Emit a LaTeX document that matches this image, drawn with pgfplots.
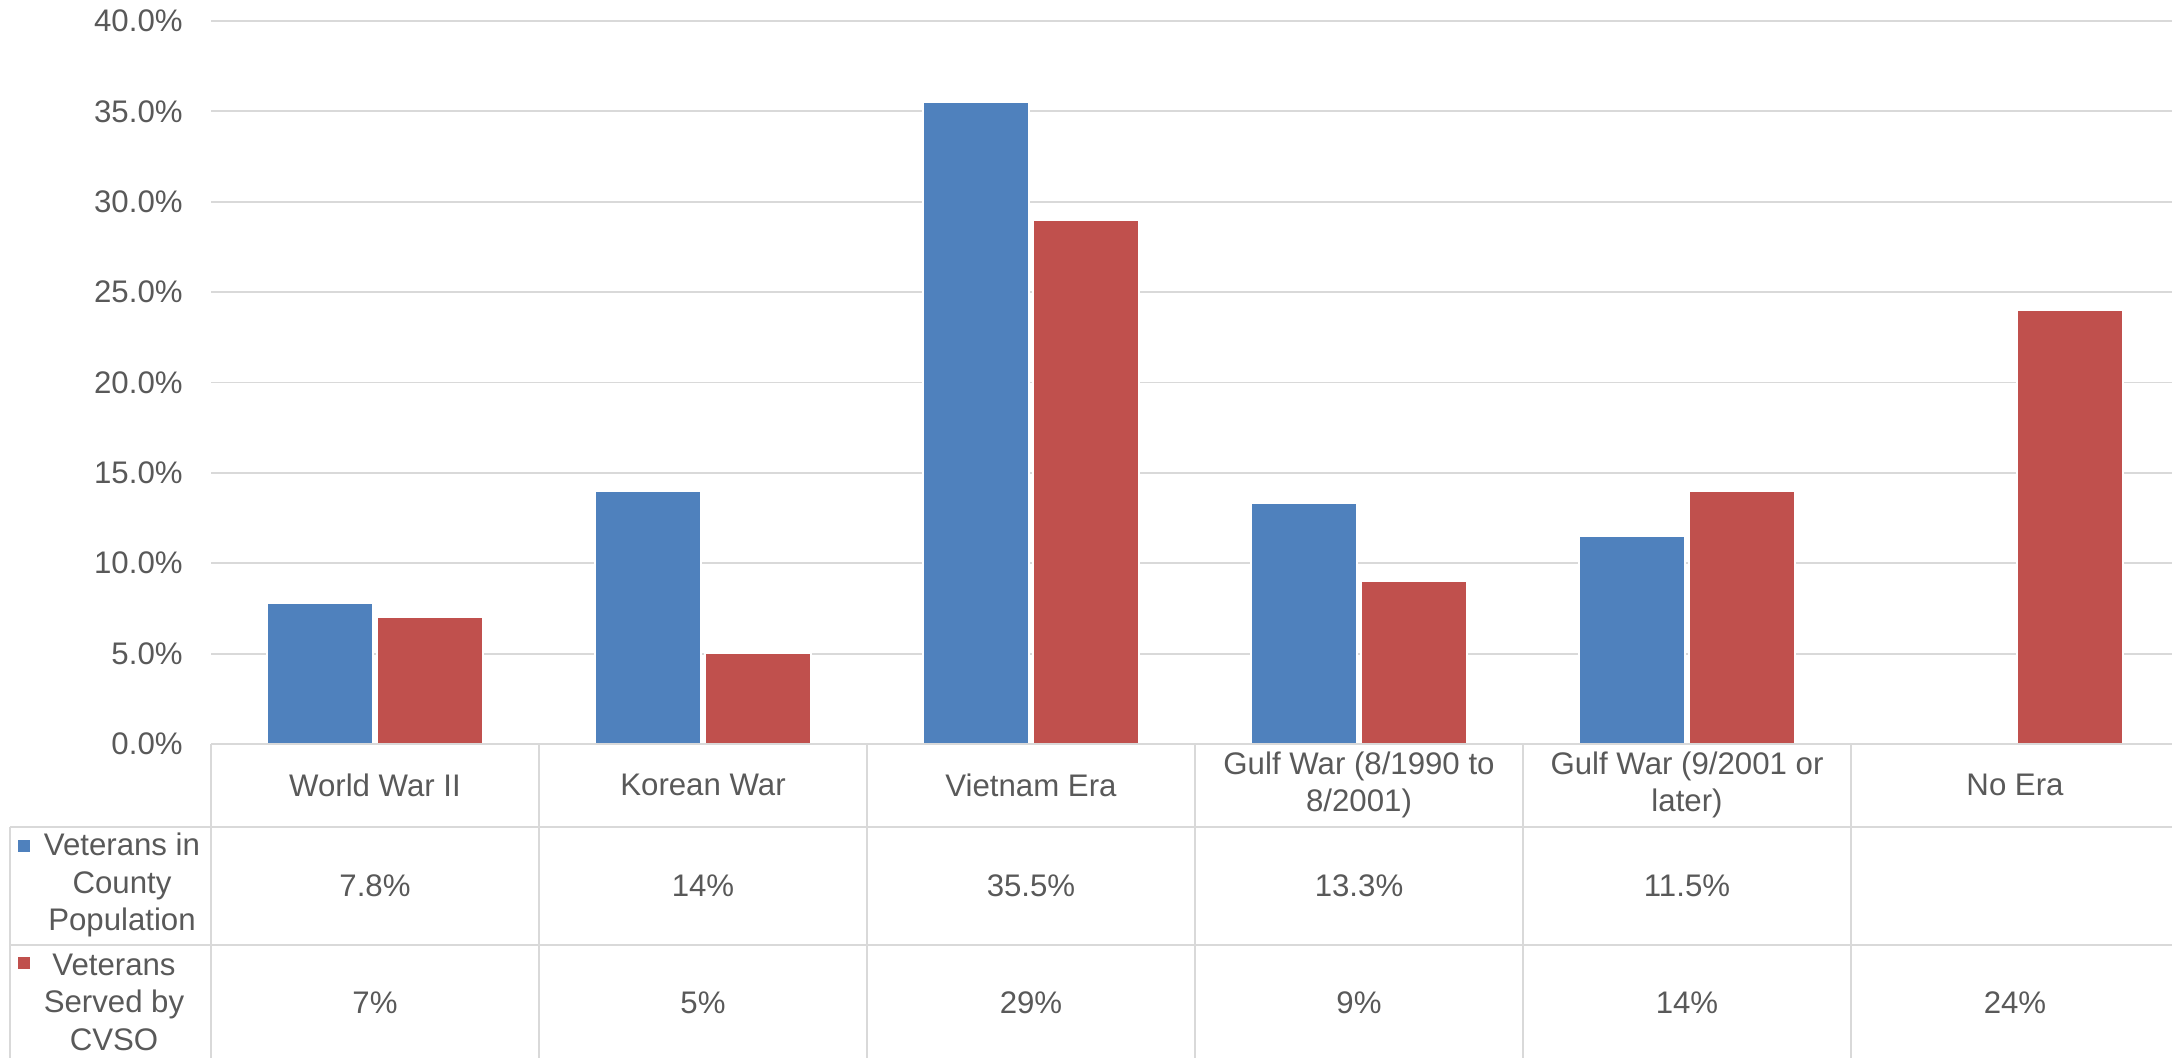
\documentclass[border=0pt]{standalone}
\usepackage{pgfplots}
\pgfplotsset{compat=1.18}
\usepackage{fontspec}
\setmainfont{Liberation Sans}
\definecolor{txt}{HTML}{595959}
\definecolor{gridc}{HTML}{D9D9D9}
\definecolor{cblue}{HTML}{4F81BD}
\definecolor{cred}{HTML}{C0504D}
\newcommand{\ff}{\fontsize{15.6}{18.75}\selectfont}
\begin{document}
\begin{tikzpicture}[font=\ff, text=txt]
\begin{axis}[at={(0,0)}, anchor=south west, scale only axis,
  width=984pt, height=361.5pt,
  xmin=-0.5, xmax=5.5, ymin=0, ymax=40,
  xtick=\empty, ytick={0,5,10,15,20,25,30,35,40},
  yticklabels={0.0\%,5.0\%,10.0\%,15.0\%,20.0\%,25.0\%,30.0\%,35.0\%,40.0\%},
  major tick length=0pt,
  ymajorgrids, grid style={gridc, line width=0.9pt},
  axis line style={draw=none},
  yticklabel style={anchor=east, inner sep=0pt, xshift=-14pt, text=txt, font=\ff},
  clip=false]
\addplot[ybar, bar width=53pt, bar shift=-27.5pt, fill=cblue, draw=white, line width=0.75pt]
  coordinates {(0,7.8) (1,14) (2,35.5) (3,13.3) (4,11.5)};
\addplot[ybar, bar width=53pt, bar shift=27.5pt, fill=cred, draw=white, line width=0.75pt]
  coordinates {(0,7) (1,5) (2,29) (3,9) (4,14) (5,24)};
\end{axis}
\begin{scope}[shift={(-105.5pt,372pt)}, x=0.5pt, y=-0.5pt]
  \draw[gridc, line width=1.1pt] (211,744) -- (2180,744);
  \draw[gridc, line width=1.1pt] (10,827) -- (2180,827);
  \draw[gridc, line width=1.1pt] (10,945) -- (2180,945);
  \draw[gridc, line width=1.1pt] (10,827) -- (10,1060);
  \foreach \xx in {211,539,867,1195,1523,1851} {
    \draw[gridc, line width=1.1pt] (\xx,744) -- (\xx,1060);
  }
  % category labels
  \node[align=center] at (375,785) {World War II};
  \node[align=center] at (703,785) {Korean War};
  \node[align=center] at (1031,785) {Vietnam Era};
  \node[align=center] at (1359,785) {Gulf War (8/1990 to\\8/2001)};
  \node[align=center] at (1687,785) {Gulf War (9/2001 or\\later)};
  \node[align=center] at (2015,785) {No Era};
  % legend cells
  \fill[cblue] (18,840) rectangle (30,852);
  \node[align=center] at (122,885) {Veterans in\\County\\Population};
  \fill[cred] (18,957) rectangle (30,969);
  \node[align=center] at (114,1002) {Veterans\\Served by\\CVSO};
  % row values
  \node at (375,886) {7.8\%};
  \node at (703,886) {14\%};
  \node at (1031,886) {35.5\%};
  \node at (1359,886) {13.3\%};
  \node at (1687,886) {11.5\%};
  \node at (375,1003) {7\%};
  \node at (703,1003) {5\%};
  \node at (1031,1003) {29\%};
  \node at (1359,1003) {9\%};
  \node at (1687,1003) {14\%};
  \node at (2015,1003) {24\%};
\end{scope}
\pgfresetboundingbox
\path[use as bounding box] (-105.5pt,-157pt) rectangle (980.5pt,372pt);
\end{tikzpicture}
\end{document}
